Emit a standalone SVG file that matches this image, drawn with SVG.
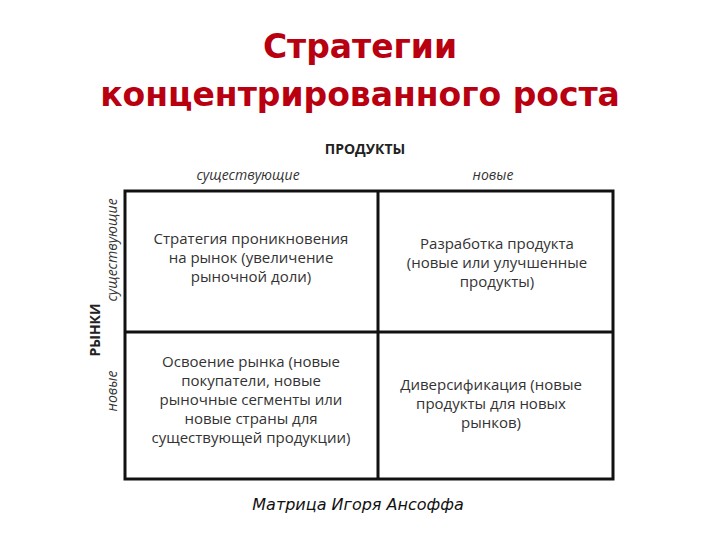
<svg xmlns="http://www.w3.org/2000/svg" width="720" height="540" viewBox="0 0 720 540">
<style>
.title{font-family:"DejaVu Sans",sans-serif;font-size:33px;fill:#b80010;font-weight:bold;text-anchor:middle}
.hdr{font-family:"Open Sans","Noto Sans",sans-serif;font-size:14px;font-weight:bold;fill:#222;text-anchor:middle}
.sub{font-family:"Open Sans","Noto Sans",sans-serif;font-size:14px;font-style:italic;fill:#333;text-anchor:middle}
.cell{font-family:"Open Sans","Noto Sans",sans-serif;font-size:15px;fill:#333;text-anchor:middle}
.cap{font-family:"DejaVu Sans",sans-serif;font-size:16px;font-style:italic;fill:#111;text-anchor:middle}
.grid{stroke:#111;stroke-width:3;fill:none}
</style>
<rect width="720" height="540" fill="#fff"/>
<g id="title">
<text class="title" x="360" y="58">Стратегии</text>
<text class="title" x="360" y="106">концентрированного роста</text>
</g>
<g id="headers">
<text class="hdr" x="365" y="154">ПРОДУКТЫ</text>
<text class="sub" x="248" y="180">существующие</text>
<text class="sub" x="493" y="180">новые</text>
<text class="hdr" transform="translate(100,330) rotate(-90)">РЫНКИ</text>
<text class="sub" transform="translate(117,250) rotate(-90)">существующие</text>
<text class="sub" transform="translate(117,391) rotate(-90)">новые</text>
</g>
<g id="connectors">
<rect class="grid" x="125" y="191" width="488" height="288"/>
<line class="grid" x1="378" y1="191" x2="378" y2="479"/>
<line class="grid" x1="125" y1="332" x2="613" y2="332"/>
</g>
<g id="cell-tl">
<text class="cell" x="251" y="244">Стратегия проникновения</text>
<text class="cell" x="251" y="263">на рынок (увеличение</text>
<text class="cell" x="251" y="282">рыночной доли)</text>
</g>
<g id="cell-tr">
<text class="cell" x="497" y="249">Разработка продукта</text>
<text class="cell" x="497" y="268">(новые или улучшенные</text>
<text class="cell" x="497" y="287">продукты)</text>
</g>
<g id="cell-bl">
<text class="cell" x="251" y="367">Освоение рынка (новые</text>
<text class="cell" x="251" y="386">покупатели, новые</text>
<text class="cell" x="251" y="405">рыночные сегменты или</text>
<text class="cell" x="251" y="424">новые страны для</text>
<text class="cell" x="251" y="443">существующей продукции)</text>
</g>
<g id="cell-br">
<text class="cell" x="491" y="390">Диверсификация (новые</text>
<text class="cell" x="491" y="409">продукты для новых</text>
<text class="cell" x="491" y="428">рынков)</text>
</g>
<g id="caption">
<text class="cap" x="358" y="510">Матрица Игоря Ансоффа</text>
</g>
</svg>
